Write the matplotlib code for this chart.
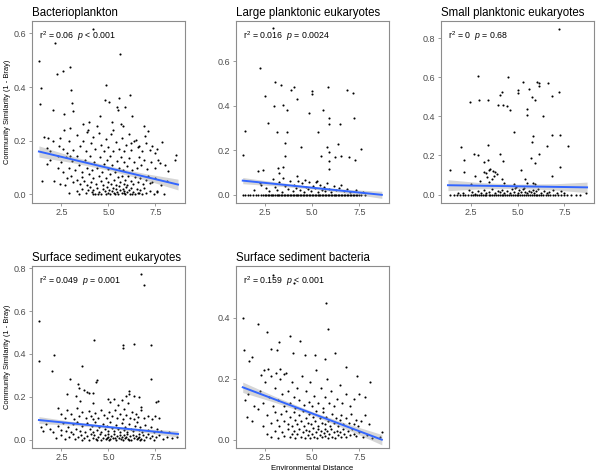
import matplotlib.pyplot as plt

plt.rcParams['font.family'] = ['Liberation Sans', 'DejaVu Sans']
plt.rcParams['mathtext.fontset'] = 'custom'
plt.rcParams['mathtext.rm'] = 'Liberation Sans'
plt.rcParams['mathtext.it'] = 'Liberation Sans:italic'

# ---- data ----
titles = ['Bacterioplankton', 'Large planktonic eukaryotes', 'Small planktonic eukaryotes',
          'Surface sediment eukaryotes', 'Surface sediment bacteria']
stats_text = [r'r$^2$ = 0.06  $p$ < 0.001', r'r$^2$ = 0.016  $p$ = 0.0024', r'r$^2$ = 0  $p$ = 0.68',
              r'r$^2$ = 0.049  $p$ = 0.001', r'r$^2$ = 0.159  $p$ < 0.001']

bact_pts = [
    (1.32, 0.495), (1.41, 0.398), (1.34, 0.336), (2.14, 0.563), (1.44, 0.052), (2.24, 0.45), (2.59, 0.458),
    (2.97, 0.476), (2.07, 0.313), (3.0, 0.387), (4.15, 0.616), (5.61, 0.523), (4.88, 0.406), (4.84, 0.35),
    (5.57, 0.359), (6.15, 0.371), (5.43, 0.325), (5.89, 0.325), (6.27, 0.291), (6.89, 0.256), (3.07, 0.34),
    (3.11, 0.309), (2.66, 0.299), (2.62, 0.241), (2.93, 0.247), (5.05, 0.346), (4.57, 0.291), (3.87, 0.231),
    (3.66, 0.263), (3.98, 0.268), (5.19, 0.268), (5.65, 0.263), (5.78, 0.254), (5.22, 0.241), (4.39, 0.254),
    (5.48, 0.315), (1.58, 0.214), (1.79, 0.21), (2.07, 0.198), (1.72, 0.173), (1.89, 0.161), (2.41, 0.21),
    (2.38, 0.182), (2.31, 0.145), (1.75, 0.115), (2.8, 0.155), (2.93, 0.142), (8.61, 0.148), (8.52, 0.13),
    (7.86, 0.194), (8.18, 0.087), (7.97, 0.0), (7.48, 0.155), (7.31, 0.179), (7.1, 0.235), (7.74, 0.118),
    (7.57, 0.012), (7.22, 0.043), (6.96, 0.216), (6.61, 0.179), (6.44, 0.204), (6.18, 0.192),
    (2.9, 0.005), (3.3, 0.012), (3.6, 0.02), (3.8, 0.004), (3.9, 0.015), (4.0, 0.028), (4.1, 0.008),
    (4.2, 0.018), (4.3, 0.002), (4.4, 0.025), (4.5, 0.01), (4.6, 0.003), (4.7, 0.02), (4.8, 0.012),
    (4.9, 0.027), (5.0, 0.006), (5.05, 0.018), (5.1, 0.0), (5.2, 0.014), (5.25, 0.025), (5.3, 0.004),
    (5.4, 0.02), (5.45, 0.009), (5.5, 0.0), (5.55, 0.03), (5.6, 0.015), (5.7, 0.005), (5.75, 0.022),
    (5.8, 0.012), (5.9, 0.0), (5.95, 0.028), (6.0, 0.008), (6.1, 0.018), (6.15, 0.002), (6.2, 0.025),
    (6.3, 0.01), (6.4, 0.0), (6.5, 0.02), (6.6, 0.006), (6.7, 0.015), (6.8, 0.0), (6.9, 0.025), (7.0, 0.004),
    (7.2, 0.012), (7.4, 0.0), (7.6, 0.008), (4.45, 0.0), (4.85, 0.0), (5.35, 0.002), (5.85, 0.006),
    (6.25, 0.0), (6.55, 0.004), (3.45, 0.0), (4.15, 0.0),
    (2.1, 0.05), (2.4, 0.04), (2.7, 0.035), (2.8, 0.06), (3.0, 0.07), (3.1, 0.045), (3.3, 0.055), (3.5, 0.04),
    (3.6, 0.065), (3.7, 0.05), (3.85, 0.035), (3.95, 0.075), (4.05, 0.045), (4.2, 0.06), (4.35, 0.04),
    (4.5, 0.07), (4.6, 0.05), (4.7, 0.035), (4.85, 0.06), (4.95, 0.045), (5.1, 0.075), (5.15, 0.04),
    (5.3, 0.055), (5.4, 0.035), (5.5, 0.065), (5.6, 0.045), (5.7, 0.07), (5.8, 0.04), (5.9, 0.055),
    (6.0, 0.035), (6.05, 0.07), (6.2, 0.05), (6.3, 0.04), (6.4, 0.065), (6.55, 0.045), (6.7, 0.06),
    (6.85, 0.04), (7.0, 0.055), (7.1, 0.07), (7.3, 0.045), (7.5, 0.06), (7.8, 0.035), (8.1, 0.05),
    (1.9, 0.13), (2.3, 0.1), (2.5, 0.12), (2.6, 0.085), (2.75, 0.14), (2.9, 0.1), (3.05, 0.125), (3.2, 0.09),
    (3.35, 0.145), (3.45, 0.11), (3.6, 0.085), (3.75, 0.13), (3.85, 0.1), (4.0, 0.145), (4.1, 0.09),
    (4.25, 0.12), (4.4, 0.1), (4.55, 0.14), (4.65, 0.085), (4.75, 0.115), (4.9, 0.13), (5.0, 0.095),
    (5.1, 0.145), (5.2, 0.11), (5.35, 0.085), (5.45, 0.125), (5.55, 0.1), (5.65, 0.14), (5.75, 0.09),
    (5.85, 0.12), (6.0, 0.105), (6.1, 0.135), (6.25, 0.09), (6.35, 0.12), (6.5, 0.1), (6.6, 0.14),
    (6.75, 0.11), (6.9, 0.13), (7.05, 0.095), (7.25, 0.12), (7.45, 0.1), (7.65, 0.13), (8.0, 0.11),
    (2.6, 0.17), (2.9, 0.2), (3.1, 0.165), (3.3, 0.22), (3.5, 0.18), (3.65, 0.2), (3.8, 0.16), (3.9, 0.24),
    (4.05, 0.19), (4.2, 0.215), (4.3, 0.17), (4.5, 0.23), (4.6, 0.185), (4.75, 0.16), (4.85, 0.205),
    (5.0, 0.175), (5.15, 0.225), (5.25, 0.16), (5.4, 0.195), (5.55, 0.17), (5.7, 0.21), (5.8, 0.16),
    (5.95, 0.185), (6.1, 0.225), (6.2, 0.165), (6.35, 0.2), (6.55, 0.175), (6.8, 0.16), (7.0, 0.19),
    (7.2, 0.165), (7.6, 0.17),
]
bact_zero_x = []

large_pts = [
    (2.91, 0.748), (2.2, 0.571), (3.04, 0.506), (3.36, 0.492), (2.46, 0.442), (3.89, 0.47), (4.02, 0.484),
    (4.96, 0.467), (5.01, 0.455), (5.82, 0.486), (6.86, 0.473), (7.14, 0.456), (4.18, 0.431), (2.96, 0.397),
    (3.45, 0.405), (3.66, 0.382), (5.59, 0.382), (4.84, 0.366), (5.89, 0.343), (5.89, 0.319), (6.48, 0.32),
    (7.2, 0.345), (2.63, 0.323), (1.42, 0.286), (3.14, 0.281), (3.66, 0.281), (5.29, 0.283), (3.55, 0.233),
    (6.36, 0.23), (1.32, 0.18), (3.55, 0.173), (4.38, 0.216), (5.8, 0.216), (5.89, 0.192), (5.46, 0.173),
    (6.21, 0.17), (6.54, 0.173), (6.93, 0.17), (7.29, 0.158), (7.61, 0.204), (5.89, 0.153), (5.91, 0.114),
    (2.39, 0.113), (2.1, 0.107), (3.18, 0.118), (3.23, 0.099), (3.43, 0.124), (4.21, 0.082), (2.2, 0.05),
    (1.9, 0.02), (2.25, 0.045), (2.55, 0.03), (2.7, 0.015), (2.9, 0.07), (3.0, 0.035), (3.1, 0.02),
    (3.25, 0.055), (3.4, 0.01), (3.55, 0.04), (3.7, 0.025), (3.8, 0.06), (3.95, 0.015), (4.05, 0.045),
    (4.15, 0.03), (4.25, 0.06), (4.35, 0.02), (4.45, 0.05), (4.55, 0.01), (4.65, 0.035), (4.75, 0.025),
    (4.85, 0.055), (4.95, 0.015), (5.05, 0.04), (5.15, 0.03), (5.25, 0.06), (5.3, 0.01), (5.4, 0.045),
    (5.5, 0.02), (5.6, 0.035), (5.7, 0.015), (5.8, 0.05), (5.9, 0.025), (6.0, 0.01), (6.15, 0.04),
    (6.25, 0.02), (6.4, 0.03), (6.55, 0.045), (6.7, 0.015), (6.85, 0.025), (7.0, 0.01), (7.3, 0.02),
    (7.7, 0.01), (4.6, 0.065), (5.2, 0.058), (3.45, 0.075),
]
large_zero_x = [1.3, 1.42, 1.58, 1.71, 1.86, 2.0, 2.12, 2.27, 2.4, 2.48, 2.56, 2.63, 2.71, 2.79, 2.86, 2.93,
                3.02, 3.1, 3.17, 3.25, 3.33, 3.4, 3.48, 3.57, 3.64, 3.72, 3.8, 3.87, 3.95, 4.03, 4.11, 4.18,
                4.26, 4.34, 4.41, 4.5, 4.58, 4.65, 4.73, 4.81, 4.88, 4.96, 5.05, 5.12, 5.2, 5.28, 5.35, 5.43,
                5.51, 5.58, 5.66, 5.74, 5.82, 5.9, 5.97, 6.05, 6.13, 6.21, 6.28, 6.36, 6.44, 6.52, 6.6, 6.67,
                6.75, 6.83, 6.91, 6.98, 7.06, 7.14, 7.22, 7.3, 7.38, 7.47, 7.6, 7.78]

small_pts = [
    (7.22, 0.846), (2.9, 0.608), (4.5, 0.6), (5.29, 0.574), (6.02, 0.577), (6.16, 0.571), (6.16, 0.554),
    (6.6, 0.571), (5.6, 0.54), (5.02, 0.537), (5.02, 0.52), (7.19, 0.527), (4.19, 0.527), (4.09, 0.511),
    (5.78, 0.5), (6.84, 0.503), (5.91, 0.486), (2.45, 0.474), (2.97, 0.486), (3.41, 0.482), (3.95, 0.46),
    (4.24, 0.46), (4.45, 0.452), (4.6, 0.435), (5.48, 0.44), (5.48, 0.409), (6.36, 0.404), (4.84, 0.321),
    (5.84, 0.299), (6.84, 0.306), (7.26, 0.306), (5.78, 0.268), (3.41, 0.253), (6.57, 0.248), (7.71, 0.251),
    (2.0, 0.245), (4.09, 0.207), (2.71, 0.21), (2.9, 0.204), (6.12, 0.21), (2.16, 0.177), (3.24, 0.166),
    (3.41, 0.177), (4.22, 0.17), (5.71, 0.185), (5.95, 0.16), (1.41, 0.127), (2.16, 0.116), (2.76, 0.093),
    (3.02, 0.07), (3.21, 0.116), (3.33, 0.112), (3.47, 0.126), (3.55, 0.129), (3.71, 0.121), (3.81, 0.116),
    (3.91, 0.104), (3.76, 0.095), (3.4, 0.092), (3.64, 0.078), (3.47, 0.065), (4.19, 0.078), (4.26, 0.061),
    (5.16, 0.126), (5.4, 0.082), (5.5, 0.061), (5.84, 0.061), (5.95, 0.053), (6.84, 0.097), (7.26, 0.141),
    (2.53, 0.056), (4.79, 0.053),
    (1.85, 0.01), (2.1, 0.008), (2.4, 0.025), (2.6, 0.012), (2.75, 0.005), (2.9, 0.018), (3.05, 0.01),
    (3.2, 0.022), (3.35, 0.006), (3.5, 0.015), (3.65, 0.03), (3.8, 0.008), (3.95, 0.02), (4.05, 0.012),
    (4.2, 0.025), (4.3, 0.006), (4.45, 0.018), (4.6, 0.01), (4.7, 0.03), (4.8, 0.015), (4.9, 0.04),
    (5.0, 0.008), (5.1, 0.022), (5.2, 0.012), (5.3, 0.03), (5.4, 0.015), (5.5, 0.006), (5.6, 0.02),
    (5.7, 0.012), (5.8, 0.025), (5.9, 0.008), (6.0, 0.018), (6.1, 0.03), (6.25, 0.01), (6.4, 0.02),
    (6.55, 0.008), (6.7, 0.015), (6.9, 0.025), (7.1, 0.01), (7.3, 0.02), (7.5, 0.008), (4.85, 0.033),
    (5.35, 0.036), (8.62, 0.006),
]
small_zero_x = [1.4, 1.62, 1.8, 1.95, 2.08, 2.22, 2.35, 2.5, 2.62, 2.73, 2.85, 2.94, 3.05, 3.14, 3.26, 3.35,
                3.47, 3.55, 3.66, 3.77, 3.86, 3.97, 4.05, 4.16, 4.25, 4.36, 4.45, 4.55, 4.66, 4.74, 4.85,
                4.95, 5.04, 5.15, 5.24, 5.36, 5.45, 5.55, 5.66, 5.75, 5.86, 5.96, 6.05, 6.16, 6.27, 6.38,
                6.5, 6.62, 6.75, 6.88, 7.0, 7.15, 7.3, 7.48, 7.66, 7.85, 8.1, 8.35]

sedeuk_pts = [
    (1.3, 0.552), (1.32, 0.365), (2.1, 0.395), (1.99, 0.322), (3.57, 0.342), (4.21, 0.463), (2.97, 0.285),
    (3.37, 0.258), (3.41, 0.24), (4.39, 0.277), (4.35, 0.27), (3.71, 0.234), (3.88, 0.221), (3.99, 0.22),
    (4.2, 0.22), (3.29, 0.204), (2.8, 0.212), (5.79, 0.44), (5.79, 0.429), (6.35, 0.447), (7.24, 0.44),
    (6.71, 0.771), (6.87, 0.723), (7.27, 0.285), (6.08, 0.226), (6.08, 0.215), (6.35, 0.203), (6.75, 0.153),
    (7.62, 0.181), (7.52, 0.176), (5.91, 0.204),
    (2.2, 0.01), (2.5, 0.02), (2.7, 0.005), (2.9, 0.015), (3.1, 0.025), (3.2, 0.003), (3.4, 0.012),
    (3.55, 0.022), (3.7, 0.006), (3.85, 0.018), (3.95, 0.0), (4.05, 0.028), (4.15, 0.01), (4.25, 0.02),
    (4.35, 0.003), (4.45, 0.015), (4.55, 0.025), (4.6, 0.0), (4.7, 0.01), (4.8, 0.02), (4.85, 0.004),
    (4.95, 0.014), (5.0, 0.026), (5.1, 0.002), (5.15, 0.018), (5.25, 0.008), (5.3, 0.028), (5.4, 0.0),
    (5.45, 0.016), (5.55, 0.006), (5.6, 0.024), (5.7, 0.012), (5.75, 0.0), (5.85, 0.02), (5.9, 0.008),
    (6.0, 0.028), (6.05, 0.003), (6.15, 0.016), (6.2, 0.0), (6.3, 0.024), (6.35, 0.01), (6.45, 0.018),
    (6.5, 0.002), (6.6, 0.026), (6.65, 0.012), (6.75, 0.005), (6.85, 0.02), (6.9, 0.0), (7.0, 0.014),
    (7.1, 0.025), (7.2, 0.006), (7.3, 0.018), (7.4, 0.0), (7.55, 0.012), (7.7, 0.022), (7.9, 0.004),
    (8.1, 0.015), (8.4, 0.008), (8.65, 0.012), (4.4, 0.0), (5.05, 0.0), (5.65, 0.005), (6.1, 0.0),
    (6.7, 0.0), (3.6, 0.0), (4.9, 0.008), (5.35, 0.01), (5.95, 0.015), (6.55, 0.008),
    (1.4, 0.06), (1.5, 0.04), (1.7, 0.075), (1.9, 0.05), (2.05, 0.035), (2.3, 0.065), (2.45, 0.045),
    (2.6, 0.08), (2.75, 0.04), (2.85, 0.06), (3.0, 0.035), (3.1, 0.075), (3.25, 0.05), (3.35, 0.085),
    (3.5, 0.04), (3.6, 0.065), (3.75, 0.035), (3.85, 0.08), (4.0, 0.05), (4.1, 0.065), (4.2, 0.035),
    (4.3, 0.085), (4.4, 0.045), (4.5, 0.06), (4.6, 0.038), (4.7, 0.075), (4.8, 0.05), (4.9, 0.065),
    (5.0, 0.04), (5.1, 0.085), (5.2, 0.055), (5.3, 0.04), (5.4, 0.07), (5.5, 0.05), (5.6, 0.035),
    (5.7, 0.08), (5.8, 0.045), (5.9, 0.06), (6.0, 0.035), (6.1, 0.075), (6.2, 0.05), (6.3, 0.04),
    (6.4, 0.065), (6.5, 0.085), (6.6, 0.045), (6.7, 0.06), (6.8, 0.035), (6.95, 0.07), (7.1, 0.045),
    (7.25, 0.06), (7.4, 0.035), (7.6, 0.05), (7.8, 0.04), (8.2, 0.035),
    (2.3, 0.15), (2.5, 0.12), (2.7, 0.1), (2.8, 0.14), (3.0, 0.12), (3.15, 0.095), (3.3, 0.15), (3.45, 0.11),
    (3.6, 0.13), (3.8, 0.1), (3.95, 0.135), (4.05, 0.11), (4.15, 0.095), (4.3, 0.125), (4.45, 0.1),
    (4.6, 0.14), (4.75, 0.115), (4.9, 0.1), (5.05, 0.13), (5.1, 0.175), (5.2, 0.11), (5.3, 0.19),
    (5.35, 0.14), (5.45, 0.1), (5.5, 0.16), (5.6, 0.12), (5.7, 0.185), (5.75, 0.095), (5.85, 0.145),
    (5.95, 0.115), (6.05, 0.17), (6.15, 0.1), (6.25, 0.13), (6.35, 0.095), (6.45, 0.12), (6.55, 0.105),
    (6.75, 0.14), (6.9, 0.1), (7.1, 0.11), (7.3, 0.095), (7.5, 0.11), (7.7, 0.1), (4.2, 0.17), (3.5, 0.18),
    (6.6, 0.2), (5.0, 0.19),
]
sedeuk_zero_x = []

sedbac_pts = [
    (2.89, 0.542), (4.05, 0.515), (5.75, 0.45), (5.84, 0.364), (1.3, 0.4), (2.12, 0.38), (2.57, 0.353),
    (1.35, 0.294), (3.84, 0.339), (4.32, 0.325), (3.25, 0.322), (2.8, 0.297), (3.11, 0.294), (6.2, 0.283),
    (5.16, 0.279), (5.66, 0.266), (4.59, 0.277), (3.96, 0.283), (1.64, 0.258), (1.8, 0.272), (6.79, 0.238),
    (2.66, 0.232), (2.45, 0.228), (2.27, 0.212), (8.07, 0.19), (7.36, 0.21), (3.07, 0.219), (3.3, 0.232),
    (3.52, 0.216),
    (2.6, 0.02), (2.8, 0.01), (3.0, 0.03), (3.2, 0.005), (3.4, 0.025), (3.5, 0.012), (3.7, 0.035),
    (3.8, 0.008), (3.9, 0.02), (4.0, 0.03), (4.1, 0.005), (4.2, 0.018), (4.3, 0.035), (4.4, 0.01),
    (4.5, 0.025), (4.6, 0.004), (4.65, 0.032), (4.75, 0.015), (4.85, 0.028), (4.9, 0.006), (5.0, 0.02),
    (5.05, 0.038), (5.1, 0.01), (5.2, 0.026), (5.25, 0.004), (5.3, 0.034), (5.4, 0.015), (5.45, 0.03),
    (5.5, 0.008), (5.6, 0.022), (5.65, 0.036), (5.7, 0.012), (5.8, 0.028), (5.85, 0.005), (5.9, 0.02),
    (6.0, 0.034), (6.05, 0.01), (6.15, 0.024), (6.2, 0.004), (6.3, 0.03), (6.35, 0.015), (6.45, 0.025),
    (6.55, 0.008), (6.65, 0.035), (6.7, 0.018), (6.8, 0.01), (6.9, 0.028), (7.0, 0.015), (7.1, 0.035),
    (7.2, 0.02), (7.35, 0.012), (7.5, 0.025), (7.7, 0.01), (7.9, 0.015), (8.2, 0.005), (8.6, 0.01),
    (8.7, 0.025),
    (1.5, 0.075), (1.8, 0.06), (2.1, 0.1), (2.4, 0.045), (2.6, 0.08), (2.8, 0.055), (3.0, 0.09),
    (3.1, 0.065), (3.25, 0.045), (3.35, 0.085), (3.5, 0.06), (3.6, 0.095), (3.7, 0.05), (3.8, 0.075),
    (3.9, 0.045), (4.0, 0.09), (4.1, 0.065), (4.2, 0.05), (4.3, 0.08), (4.4, 0.06), (4.5, 0.095),
    (4.55, 0.045), (4.65, 0.07), (4.75, 0.055), (4.85, 0.085), (4.95, 0.05), (5.05, 0.075), (5.15, 0.06),
    (5.2, 0.095), (5.3, 0.045), (5.4, 0.07), (5.5, 0.055), (5.55, 0.09), (5.65, 0.05), (5.75, 0.075),
    (5.85, 0.06), (5.95, 0.045), (6.05, 0.085), (6.15, 0.055), (6.25, 0.07), (6.35, 0.045), (6.45, 0.065),
    (6.55, 0.08), (6.65, 0.05), (6.8, 0.07), (6.95, 0.055), (7.05, 0.085), (7.2, 0.05), (7.3, 0.065),
    (7.45, 0.045), (7.6, 0.06), (7.8, 0.08), (8.0, 0.05),
    (1.4, 0.13), (1.6, 0.15), (1.9, 0.11), (2.2, 0.16), (2.4, 0.12), (2.5, 0.19), (2.7, 0.14), (2.8, 0.21),
    (2.9, 0.11), (3.0, 0.17), (3.15, 0.13), (3.3, 0.2), (3.4, 0.15), (3.5, 0.11), (3.6, 0.22), (3.7, 0.16),
    (3.8, 0.12), (3.9, 0.19), (4.0, 0.14), (4.1, 0.105), (4.2, 0.17), (4.3, 0.13), (4.45, 0.21),
    (4.55, 0.115), (4.65, 0.16), (4.8, 0.125), (4.9, 0.19), (5.0, 0.11), (5.1, 0.145), (5.2, 0.23),
    (5.3, 0.12), (5.45, 0.17), (5.55, 0.105), (5.7, 0.14), (5.8, 0.2), (5.9, 0.12), (6.0, 0.16),
    (6.15, 0.11), (6.3, 0.135), (6.45, 0.18), (6.6, 0.12), (6.8, 0.15), (7.0, 0.11), (7.2, 0.135),
    (7.5, 0.15), (7.8, 0.14),
]
sedbac_zero_x = []

# regression line ends (x = 1.3 and 8.7) and confidence band half widths
fit_x = [1.3, 8.7]
band_x = [1.3, 3.0, 5.0, 7.0, 8.7]
fit_y = [[0.16, 0.037], [0.063, -0.001], [0.048, 0.037], [0.092, 0.027], [0.172, 0.0]]
band_half = [[0.021, 0.012, 0.008, 0.012, 0.02],
             [0.014, 0.009, 0.006, 0.009, 0.016],
             [0.028, 0.016, 0.011, 0.016, 0.027],
             [0.016, 0.009, 0.006, 0.009, 0.015],
             [0.017, 0.01, 0.006, 0.01, 0.017]]

points = [bact_pts, large_pts, small_pts, sedeuk_pts, sedbac_pts]
zero_rows = [bact_zero_x, large_zero_x, small_zero_x, sedeuk_zero_x, sedbac_zero_x]
ylims = [(-0.031, 0.646), (-0.037, 0.782), (-0.042, 0.888), (-0.038, 0.81), (-0.027, 0.57)]
yticks = [[0, 0.2, 0.4, 0.6], [0, 0.2, 0.4, 0.6], [0, 0.2, 0.4, 0.6, 0.8],
          [0, 0.2, 0.4, 0.6, 0.8], [0, 0.2, 0.4]]
xticks = [2.5, 5.0, 7.5]

# panel placement (figure fractions)
lefts = [0.0533, 0.393, 0.735, 0.0533, 0.393]
bottoms = [0.573, 0.573, 0.573, 0.057, 0.057]
W, H = 0.255, 0.383

grey = '#8c8c8c'
fig = plt.figure(figsize=(6, 4.75), dpi=100)

for i in range(5):
    ax = fig.add_axes([lefts[i], bottoms[i], W, H])
    xs = [p[0] for p in points[i]] + zero_rows[i]
    ys = [p[1] for p in points[i]] + [0.0 for z in zero_rows[i]]
    ax.scatter(xs, ys, s=2.3, c='black', linewidths=0, zorder=2)

    # straight fitted line through the two read ends
    slope = (fit_y[i][1] - fit_y[i][0]) / (fit_x[1] - fit_x[0])
    mid = [fit_y[i][0] + slope * (bx - fit_x[0]) for bx in band_x]
    lo = [m - h for m, h in zip(mid, band_half[i])]
    hi = [m + h for m, h in zip(mid, band_half[i])]
    ax.fill_between(band_x, lo, hi, color='#999999', alpha=0.4, linewidth=0, zorder=3)
    ax.plot(fit_x, fit_y[i], color='#3366FF', lw=1.4, zorder=4)

    ax.set_xlim(0.93, 9.07)
    ax.set_ylim(*ylims[i])
    ax.set_xticks(xticks)
    ax.set_xticklabels(['2.5', '5.0', '7.5'])
    ax.set_yticks(yticks[i])
    ax.set_yticklabels(['%.1f' % v for v in yticks[i]])
    ax.tick_params(length=2.5, width=0.6, color=grey, labelsize=6.5, labelcolor='#4d4d4d', pad=1.5)
    for s in ax.spines.values():
        s.set_color(grey)
        s.set_linewidth(0.8)

    ax.set_title(titles[i], loc='left', fontsize=8.3, pad=3.5)
    ax.text(0.045, 0.915, stats_text[i], transform=ax.transAxes, fontsize=6.3, va='center', ha='left')

    if i in (0, 3):
        ax.set_ylabel('Community Similarity (1 - Bray)', fontsize=5.4, labelpad=2)
    if i == 4:
        ax.set_xlabel('Environmental Distance', fontsize=5.6, labelpad=1.5)

fig.savefig('out.png', dpi=100)
